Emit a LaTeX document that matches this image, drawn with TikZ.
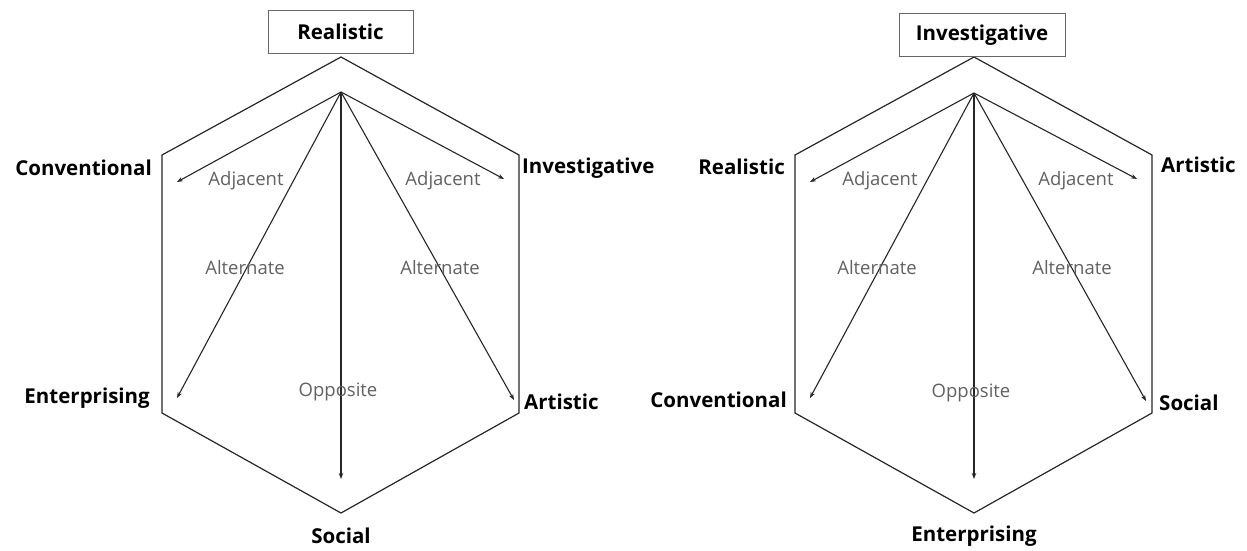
\documentclass[tikz,border=0pt]{standalone}
\usepackage{fontspec}
\setmainfont{Open Sans}
\usetikzlibrary{arrows.meta}
\tikzset{
  hexline/.style={draw=black!85, line width=1.2pt, line join=miter},
  arr/.style={draw=black!85, line width=1.1pt, -{Stealth[length=6pt,width=4.5pt]}},
  typelabel/.style={font=\fontsize{20.5}{23}\selectfont\bfseries, text=black, inner sep=1pt},
  topbox/.style={typelabel, draw=black!60, line width=0.8pt, minimum width=145pt, minimum height=43pt},
  rellabel/.style={font=\fontsize{18.5}{20}\selectfont, text=black!62, inner sep=1pt}
}
\begin{document}
\begin{tikzpicture}[x=1pt,y=-1pt]
\useasboundingbox (0,0) rectangle (1247,551);
% ---------- left hexagon ----------
\coordinate (LT) at (341,57);
\coordinate (LUL) at (162,155);
\coordinate (LLL) at (162,413);
\coordinate (LB) at (341,513);
\coordinate (LLR) at (519,413);
\coordinate (LUR) at (519,155);
\draw[hexline] (LT) -- (LUL) -- (LLL) -- (LB) -- (LLR) -- (LUR) -- cycle;
\node[topbox] (lreal) at (340.5,31.5) {Realistic};
\coordinate (LO) at (341,92);
\coordinate (LadjL) at (177,182);
\coordinate (LadjR) at (504,179);
\coordinate (LaltL) at (177,398);
\coordinate (LaltR) at (514,400);
\coordinate (Lopp) at (341,479);
\draw[arr] (LO) -- (LadjL);
\draw[arr] (LO) -- (LadjR);
\draw[arr] (LO) -- (LaltL);
\draw[arr] (LO) -- (LaltR);
\draw[arr] (LO) -- (Lopp);
\node[rellabel] (ladj1) at (246,181) {Adjacent};
\node[rellabel] (ladj2) at (443,181) {Adjacent};
\node[rellabel] (lalt1) at (245,268) {Alternate};
\node[rellabel] (lalt2) at (440,268) {Alternate};
\node[rellabel] (lopp) at (338,392) {Opposite};
\node[typelabel, anchor=east] (lconv) at (153,168) {Conventional};
\node[typelabel, anchor=west] (linv) at (521,168) {Investigative};
\node[typelabel, anchor=east] (lent) at (151,398) {Enterprising};
\node[typelabel, anchor=west] (lart) at (523,402) {Artistic};
\node[typelabel] (lsoc) at (341,536) {Social};
% ---------- right hexagon ----------
\coordinate (RT) at (974,57);
\coordinate (RUL) at (795,155);
\coordinate (RLL) at (795,413);
\coordinate (RB) at (974,513);
\coordinate (RLR) at (1152,413);
\coordinate (RUR) at (1152,155);
\draw[hexline] (RT) -- (RUL) -- (RLL) -- (RB) -- (RLR) -- (RUR) -- cycle;
\node[topbox, minimum width=166pt] (rinv) at (982,35) {Investigative};
\coordinate (RO) at (974,93);
\coordinate (RadjL) at (810,182);
\coordinate (RadjR) at (1137,179);
\coordinate (RaltL) at (810,398);
\coordinate (RaltR) at (1146,401);
\coordinate (Ropp) at (974,479);
\draw[arr] (RO) -- (RadjL);
\draw[arr] (RO) -- (RadjR);
\draw[arr] (RO) -- (RaltL);
\draw[arr] (RO) -- (RaltR);
\draw[arr] (RO) -- (Ropp);
\node[rellabel] (radj1) at (880,181) {Adjacent};
\node[rellabel] (radj2) at (1076,181) {Adjacent};
\node[rellabel] (ralt1) at (877,268) {Alternate};
\node[rellabel] (ralt2) at (1072,268) {Alternate};
\node[rellabel] (ropp) at (971,393) {Opposite};
\node[typelabel, anchor=east] (rreal) at (786,167) {Realistic};
\node[typelabel, anchor=west] (rart) at (1160,165) {Artistic};
\node[typelabel, anchor=east] (rconv) at (788,400) {Conventional};
\node[typelabel, anchor=west] (rsoc) at (1158,403) {Social};
\node[typelabel] (rent) at (974,536) {Enterprising};
\end{tikzpicture}
\end{document}
